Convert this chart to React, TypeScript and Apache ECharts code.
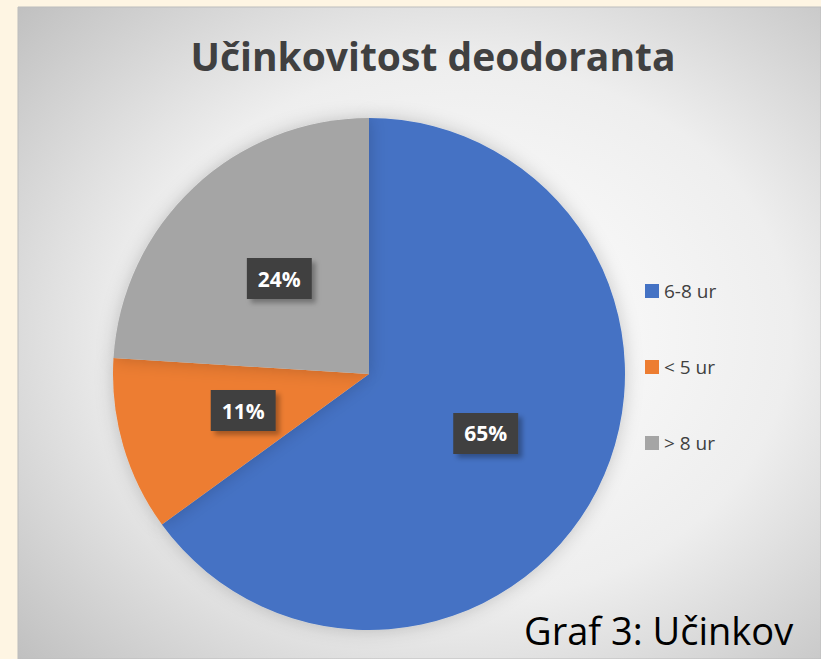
import React, { useEffect, useRef } from "react";
import * as echarts from "echarts";

const categories = ["6-8 ur", "< 5 ur", "> 8 ur"];
const values = [65, 11, 24];
const colors = ["#4472C4", "#ED7D31", "#A5A5A5"];
const titleText = "Učinkovitost deodoranta";
const captionText = "Graf 3: Učinkov";

export default function App() {
  const ref = useRef<HTMLDivElement>(null);
  useEffect(() => {
    if (!ref.current) return;
    const chart = echarts.init(ref.current, null, { renderer: "svg" });
    chart.setOption({
      animation: false,
      backgroundColor: "#FEF5E3",
      title: {
        text: titleText,
        left: 428,
        textAlign: "center",
        top: 31,
        textStyle: {
          fontFamily: "Open Sans",
          fontWeight: "bold",
          fontSize: 39,
          color: "#404040",
        },
      },
      legend: {
        orient: "vertical",
        left: 640,
        top: 276,
        itemWidth: 14,
        itemHeight: 14,
        itemGap: 56,
        icon: "rect",
        textStyle: { fontFamily: "Open Sans", fontSize: 19, lineHeight: 20, color: "#404040" },
        data: categories,
      },
      graphic: [
        {
          type: "rect",
          z: -10,
          silent: true,
          shape: { x: 18, y: 7, width: 803, height: 652 },
          style: {
            fill: new echarts.graphic.RadialGradient(0.55, 0.5, 0.75, [
              { offset: 0, color: "#ffffff" },
              { offset: 0.55, color: "#eeeeee" },
              { offset: 1, color: "#bfbfbf" },
            ]),
            stroke: "#bdbdbd",
            lineWidth: 1,
          },
        },
        {
          type: "text",
          x: 524,
          y: 630,
          z: 10,
          style: {
            text: captionText,
            fontFamily: "Open Sans",
            fontSize: 38,
            verticalAlign: "middle",
            fill: "#000000",
          },
        },
      ],
      series: [
        {
          type: "pie",
          center: [369, 374],
          radius: 256,
          startAngle: 90,
          clockwise: true,
          color: colors,
          itemStyle: { shadowBlur: 18, shadowColor: "rgba(0,0,0,0.2)" },
          label: {
            position: "inside",
            formatter: "{d}%",
            fontFamily: "Open Sans",
            fontWeight: "bold",
            fontSize: 21,
            lineHeight: 21,
            color: "#ffffff",
            backgroundColor: "#404040",
            padding: [10, 11, 10, 11],
            shadowBlur: 5,
            shadowOffsetX: 4,
            shadowOffsetY: 4,
            shadowColor: "rgba(0,0,0,0.3)",
          },
          labelLine: { show: false },
          data: categories.map((c, i) => ({ name: c, value: values[i] })),
        },
      ],
    });
    return () => chart.dispose();
  }, []);
  return (
    <div
      ref={ref}
      style={{ position: "fixed", left: 0, top: 0, width: 821, height: 659 }}
    />
  );
}
